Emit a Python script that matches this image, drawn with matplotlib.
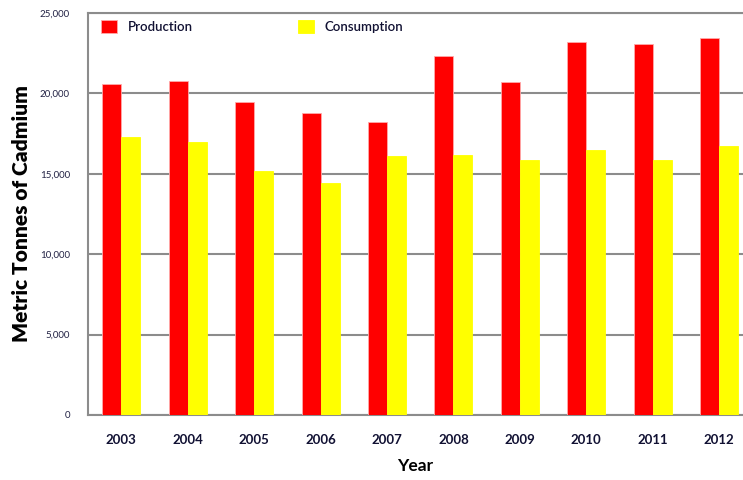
import matplotlib
matplotlib.use("Agg")
import matplotlib.pyplot as plt
import numpy as np

years = ["2003", "2004", "2005", "2006", "2007", "2008", "2009", "2010", "2011", "2012"]
production = [20600, 20800, 19450, 18800, 18200, 22300, 20700, 23200, 23050, 23450]
consumption = [17300, 17000, 15200, 14450, 16100, 16200, 15850, 16450, 15850, 16700]

plt.rcParams['font.family'] = ['Lato', 'DejaVu Sans']

fig = plt.figure(figsize=(7.43, 4.8), dpi=100)
ax = fig.add_axes([88 / 743, 1 - 415 / 480, 1 - 88 / 743, (415 - 13) / 480])

x = np.arange(len(years))
w = 0.286
ax.bar(x - w / 2, production, w, color='#ff0000', edgecolor='#ffaaaa', linewidth=0.6,
       label='Production', zorder=3)
ax.bar(x + w / 2, consumption, w, color='#ffff00', edgecolor='#ffff00', linewidth=0.6,
       label='Consumption', zorder=3)

ax.set_xlim(-0.5, 9.36)
ax.set_ylim(0, 25000)
ax.set_yticks(range(0, 25001, 5000))
ax.set_yticklabels(["0", "5,000", "10,000", "15,000", "20,000", "25,000"],
                   fontsize=7, color='#222244')
ax.set_xticks(x)
ax.set_xticklabels(years, fontsize=9.5, fontweight='bold', color='#111133')
ax.tick_params(axis='y', length=0, pad=13)
ax.tick_params(axis='x', length=0, pad=14)

ax.grid(axis='y', color='#8c8c8c', linewidth=1.5, zorder=0)
ax.spines['right'].set_visible(False)
for s in ['left', 'bottom', 'top']:
    ax.spines[s].set_color('#8c8c8c')
    ax.spines[s].set_linewidth(1.5)

ax.set_ylabel("Metric Tonnes of Cadmium", fontsize=15, fontweight='heavy', labelpad=6)
ax.set_xlabel("Year", fontsize=12.5, fontweight='bold', labelpad=8)

leg = ax.legend(loc='upper left', ncol=2, frameon=False,
                handlelength=1.2, handleheight=1.2, columnspacing=8.0,
                borderaxespad=0.1, bbox_to_anchor=(0.01, 1.0),
                prop={'size': 9.5, 'weight': 'semibold'})
for t in leg.get_texts():
    t.set_color('#111133')

fig.savefig("out.png", dpi=100)
